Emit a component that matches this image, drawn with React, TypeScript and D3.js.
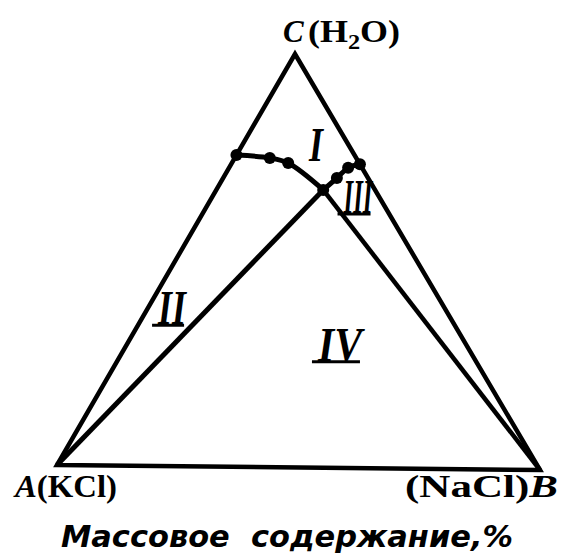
import React from "react";
import * as d3 from "d3";

// Ternary system KCl – NaCl – H2O, mass fractions in percent: [KCl, NaCl, H2O]
type Comp = [number, number, number];

// Solubility curve of KCl (from the A–C side to the eutonic point)
const kclBranch: Comp[] = [
  [24.6, 0, 75.4],
  [18.0, 7.2, 74.8],
  [14.8, 11.6, 73.6],
  [10.8, 22.0, 67.2],
];
// Solubility curve of NaCl (from the eutonic point to the B–C side)
const naclBranch: Comp[] = [
  [10.8, 22.0, 67.2],
  [6.5, 23.4, 70.1],
  [2.9, 24.5, 72.6],
  [0, 26.5, 73.5],
];
// Experimental points marked on the curves
const markedPoints: Comp[] = [
  [24.6, 0, 75.4],
  [18.0, 7.2, 74.8],
  [14.8, 11.6, 73.6],
  [10.8, 22.0, 67.2],
  [6.5, 23.4, 70.1],
  [2.9, 24.5, 72.6],
  [0, 26.5, 73.5],
];
const eutonic: Comp = [10.8, 22.0, 67.2];

// Pure components
const pureA: Comp = [100, 0, 0];
const pureB: Comp = [0, 100, 0];
const pureC: Comp = [0, 0, 100];

// Field labels, placed at representative compositions
const fieldLabels: { text: string; at: Comp; width: number }[] = [
  { text: "I", at: [6.8, 15.2, 78.0], width: 14 },
  { text: "II", at: [56.8, 5.0, 38.2], width: 28 },
  { text: "III", at: [4.4, 30.0, 65.6], width: 29 },
  { text: "IV", at: [26.3, 43.9, 29.8], width: 44 },
];

const captionText = "Массовое  содержание,%";

const W = 567;
const H = 560;

// Pixel positions of the three vertices
const vA: [number, number] = [57, 465];
const vB: [number, number] = [540, 470];
const vC: [number, number] = [295, 54];

// Barycentric scales: percent → share of each vertex
const frac = d3.scaleLinear().domain([0, 100]).range([0, 1]);

function toXY(p: Comp): [number, number] {
  const a = frac(p[0]);
  const b = frac(p[1]);
  const c = frac(p[2]);
  return [
    a * vA[0] + b * vB[0] + c * vC[0],
    a * vA[1] + b * vB[1] + c * vC[1],
  ];
}

const curve = d3
  .line<Comp>()
  .x((d) => toXY(d)[0])
  .y((d) => toXY(d)[1])
  .curve(d3.curveCatmullRom.alpha(0.5));

const straight = d3
  .line<Comp>()
  .x((d) => toXY(d)[0])
  .y((d) => toXY(d)[1]);

const serif = "'Liberation Serif', 'DejaVu Serif', serif";

export default function App() {
  const [ax, ay] = toXY(pureA);
  const [bx, by] = toXY(pureB);
  const [cx, cy] = toXY(pureC);
  return (
    <svg
      width={W}
      height={H}
      viewBox={`0 0 ${W} ${H}`}
      style={{ position: "absolute", left: 0, top: 0, background: "#fff" }}
    >
      <rect x={0} y={0} width={W} height={H} fill="#fff" />
      {/* Triangle sides */}
      <path
        d={straight([pureA, pureB, pureC, pureA]) + "Z"}
        fill="none"
        stroke="#000"
        strokeWidth={4.5}
        strokeLinejoin="miter"
      />
      {/* Tie lines from the eutonic point to the pure salts */}
      <path d={straight([pureA, eutonic]) ?? ""} stroke="#000" strokeWidth={5} fill="none" />
      <path d={straight([pureB, eutonic]) ?? ""} stroke="#000" strokeWidth={4.5} fill="none" />
      {/* Solubility curves */}
      <path d={curve(kclBranch) ?? ""} stroke="#000" strokeWidth={5} fill="none" />
      <path d={curve(naclBranch) ?? ""} stroke="#000" strokeWidth={5} fill="none" />
      {markedPoints.map((p, i) => {
        const [x, y] = toXY(p);
        return <circle key={i} cx={x} cy={y} r={6} fill="#000" />;
      })}

      {/* Field numerals */}
      {fieldLabels.map((f) => {
        const [x, y] = toXY(f.at);
        const w = f.width;
        return (
          <g key={f.text}>
            <text
              x={x - w / 2}
              y={y + 16}
              fontFamily={serif}
              fontStyle="italic"
              fontWeight="bold"
              fontSize={48}
              textLength={w}
              lengthAdjust="spacingAndGlyphs"
              fill="#000"
            >
              {f.text}
            </text>
            {f.text !== "I" && (
              <line
                x1={x - w / 2 - 6}
                x2={x + w / 2 - 2}
                y1={y + 17}
                y2={y + 17}
                stroke="#000"
                strokeWidth={3}
              />
            )}
          </g>
        );
      })}

      {/* Vertex labels */}
      <text x={cx - 12} y={cy - 12} fontFamily={serif} fontWeight="bold" fontStyle="italic" fontSize={31} fill="#000">
        C
      </text>
      <text
        x={cx + 13}
        y={cy - 12}
        fontFamily={serif}
        fontWeight="bold"
        fontSize={31}
        textLength={92}
        lengthAdjust="spacingAndGlyphs"
        fill="#000"
      >
        <tspan>(H</tspan>
        <tspan fontSize={21} dy={7}>2</tspan>
        <tspan dy={-7}>O)</tspan>
      </text>
      <text
        x={ax - 42}
        y={ay + 32}
        fontFamily={serif}
        fontWeight="bold"
        fontSize={31}
        textLength={102}
        lengthAdjust="spacingAndGlyphs"
        fill="#000"
      >
        <tspan fontStyle="italic">A</tspan>
        <tspan>(KCl)</tspan>
      </text>
      <text
        x={bx - 135}
        y={by + 27}
        fontFamily={serif}
        fontWeight="bold"
        fontSize={31}
        textLength={153}
        lengthAdjust="spacingAndGlyphs"
        fill="#000"
      >
        <tspan>(NaCl)</tspan>
        <tspan fontStyle="italic">B</tspan>
      </text>

      {/* Axis caption */}
      <text
        x={61}
        y={547}
        fontFamily="'DejaVu Sans', sans-serif"
        fontStyle="italic"
        fontWeight="bold"
        fontSize={31}
        textLength={452}
        lengthAdjust="spacingAndGlyphs"
        fill="#000"
        style={{ whiteSpace: "pre" }}
      >
        {captionText}
      </text>
    </svg>
  );
}
